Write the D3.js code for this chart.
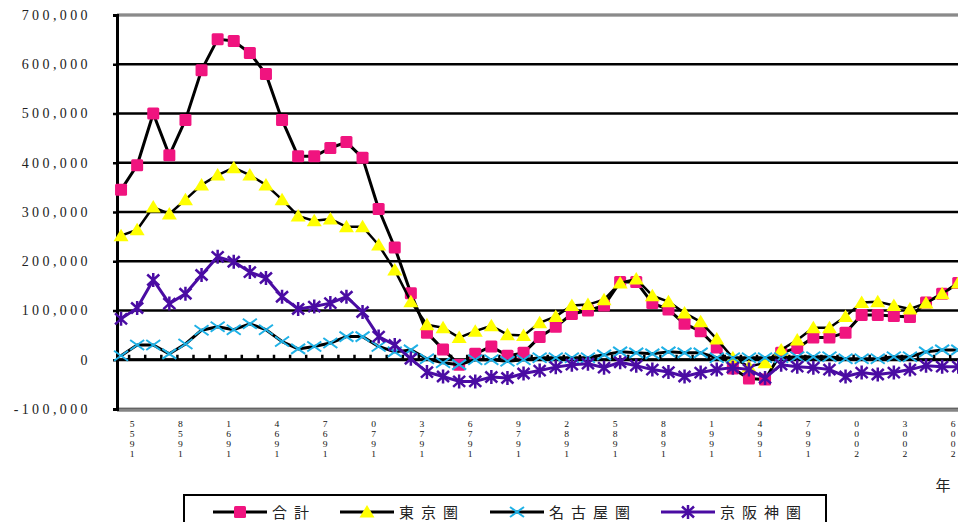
<!DOCTYPE html>
<html>
<head>
<meta charset="utf-8">
<script src="https://cdn.jsdelivr.net/npm/d3@7"></script>
<style>
  body { margin: 0; background: #fff; }
  svg { display: block; }
</style>
</head>
<body>
<div id="chart"></div>
<script>
// years on the category axis (1955 - 2007)
var years = d3.range(1955, 2008);

// labelled years (every 3rd)
var tickYears = [1955, 1958, 1961, 1964, 1967, 1970, 1973, 1976, 1979, 1982,
                 1985, 1988, 1991, 1994, 1997, 2000, 2003, 2006];

var yTicks = [-100000, 0, 100000, 200000, 300000, 400000, 500000, 600000, 700000];

var seriesNames = ["合計", "東京圏", "名古屋圏", "京阪神圏"];

var total = [345000, 395000, 500000, 415000, 487000, 588000, 651000, 647000, 623000, 580000,
             487000, 413000, 413000, 430000, 442000, 410000, 306000, 228000, 135000, 55000,
             21000, -10000, 12000, 27000, 8000, 14000, 46000, 67000, 93000, 100000,
             110000, 158000, 158000, 115000, 102000, 73000, 58000, 25000, -18000, -38000,
             -40000, 14000, 24000, 45000, 45000, 55000, 91000, 91000, 89000, 87000,
             116000, 134000, 156000];

var tokyo = [252000, 264000, 310000, 296000, 325000, 355000, 375000, 390000, 375000, 355000,
             325000, 292000, 282000, 286000, 270000, 270000, 233000, 182000, 118000, 71000,
             65000, 45000, 58000, 69000, 51000, 49000, 75000, 88000, 110000, 112000,
             122000, 156000, 164000, 130000, 118000, 95000, 77000, 42000, 4000, -14000,
             -6000, 20000, 40000, 65000, 65000, 88000, 116000, 118000, 110000, 103000,
             115000, 134000, 156000];

var nagoya = [8000, 30000, 30000, 12000, 32000, 60000, 67000, 61000, 73000, 61000,
              37000, 22000, 27000, 34000, 47000, 47000, 27000, 16000, 20000, 2000,
              -6000, -10000, 0, 0, -3000, 0, 4000, 4000, 4000, 4000,
              10000, 16000, 14000, 12000, 16000, 14000, 14000, 4000, 4000, 4000,
              4000, 4000, 6000, 6000, 6000, 2000, 2000, 2000, 6000, 6000,
              16000, 20000, 20000];

var osaka = [83000, 105000, 162000, 114000, 134000, 172000, 209000, 199000, 178000, 166000,
             128000, 103000, 108000, 115000, 128000, 97000, 47000, 30000, 2000, -25000,
             -34000, -44000, -44000, -35000, -37000, -28000, -22000, -15000, -10000, -8000,
             -16000, -5000, -12000, -20000, -25000, -34000, -26000, -20000, -16000, -20000,
             -37000, -10000, -14000, -16000, -20000, -34000, -26000, -30000, -26000, -20000,
             -12000, -14000, -14000];

// chart size and plot area
var width = 958, height = 522;
var plot = {left: 117, top: 15, bottom: 409};

var svg = d3.select("#chart")
  .append("svg")
  .attr("width", width)
  .attr("height", height);

// scales
var step = 16.1;
var x = d3.scaleBand()
  .domain(years)
  .range([113, 113 + step * years.length])
  .padding(0);
var cx = function(yr) { return x(yr) + x.bandwidth() / 2; };

var y = d3.scaleLinear()
  .domain([-100000, 700000])
  .range([plot.bottom, plot.top]);

var fmt = function(d) { return d < 0 ? "-" + d3.format(",")(-d) : d3.format(",")(d); };

// horizontal gridlines
svg.append("g")
  .selectAll("line")
  .data(yTicks)
  .enter()
  .append("line")
  .attr("x1", plot.left)
  .attr("x2", width + 2)
  .attr("y1", d => y(d))
  .attr("y2", d => y(d))
  .style("stroke", "#000")
  .style("stroke-width", "2.5px");

// plot border top / bottom (grey)
svg.append("line")
  .attr("x1", plot.left).attr("x2", width + 2)
  .attr("y1", y(700000)).attr("y2", y(700000))
  .style("stroke", "#8a8a8a").style("stroke-width", "2.5px");
svg.append("line")
  .attr("x1", plot.left).attr("x2", width + 2)
  .attr("y1", y(-100000) + 1).attr("y2", y(-100000) + 1)
  .style("stroke", "#858585").style("stroke-width", "3.5px");

// y axis
var yAxis = svg.append("g")
  .attr("transform", "translate(" + plot.left + ",0)")
  .call(d3.axisLeft(y).tickValues(yTicks).tickSize(4).tickFormat(fmt));
yAxis.select(".domain").style("stroke", "#000").style("stroke-width", "3px");
yAxis.selectAll(".tick line").style("stroke", "#000").style("stroke-width", "2.5px");
yAxis.selectAll("text")
  .attr("x", -26)
  .style("font-family", "'Liberation Serif', 'DejaVu Serif', serif")
  .style("font-size", "14px")
  .style("letter-spacing", "3.4px")
  .style("fill", "#222");

// zero line with small ticks at the category boundaries
svg.append("line")
  .attr("x1", plot.left).attr("x2", width + 2)
  .attr("y1", y(0)).attr("y2", y(0))
  .style("stroke", "#000").style("stroke-width", "3px");
svg.append("g")
  .selectAll("line")
  .data(years.slice(1))
  .enter()
  .append("line")
  .attr("x1", d => x(d)).attr("x2", d => x(d))
  .attr("y1", y(0) - 5).attr("y2", y(0))
  .style("stroke", "#000").style("stroke-width", "2.5px");

// x tick labels: digits stacked upright, read from bottom to top
var xl = svg.append("g")
  .selectAll("g")
  .data(tickYears)
  .enter()
  .append("g")
  .attr("transform", d => "translate(" + (cx(d) + 11) + ",0)");
xl.each(function(d) {
  var chars = String(d).split("").reverse();
  d3.select(this).selectAll("text")
    .data(chars)
    .enter()
    .append("text")
    .attr("transform", (c, i) => "translate(0," + (427 + i * 10) + ") scale(0.8,0.75)")
    .attr("text-anchor", "middle")
    .style("font-family", "'Liberation Serif', serif")
    .style("font-size", "12px")
    .style("fill", "#111")
    .text(c => c);
});

// 年
svg.append("text")
  .attr("x", 943)
  .attr("y", 491)
  .attr("text-anchor", "middle")
  .style("font-family", "'Noto Sans CJK JP', sans-serif")
  .style("font-size", "15px")
  .style("fill", "#222")
  .text("年");

// marker shapes
var markers = {
  square: function(g) {
    g.append("rect").attr("x", -6).attr("y", -6).attr("width", 12).attr("height", 12)
      .attr("rx", 1.5).style("fill", "#f0147f");
  },
  triangle: function(g) {
    g.append("path").attr("d", "M0,-7L7.5,5.5L-7.5,5.5Z").style("fill", "#ffff00");
  },
  cross: function(g) {
    g.append("path").attr("d", "M-7,-5L7,5M-7,5L7,-5")
      .style("fill", "none").style("stroke", "#1fb1e6").style("stroke-width", "2px");
  },
  star: function(g) {
    g.append("path").attr("d", "M-6,-5.5L6,5.5M-6,5.5L6,-5.5M0,-7L0,7")
      .style("fill", "none").style("stroke", "#4a0ca3").style("stroke-width", "2.5px");
  }
};

var series = [
  {name: seriesNames[0], values: total,  line: "#000",    lw: 3,   marker: "square"},
  {name: seriesNames[1], values: tokyo,  line: "#000",    lw: 2.5, marker: "triangle"},
  {name: seriesNames[2], values: nagoya, line: "#000",    lw: 3,   marker: "cross"},
  {name: seriesNames[3], values: osaka,  line: "#4a0ca3", lw: 3,   marker: "star"}
];

var line = d3.line()
  .x((d, i) => cx(years[i]))
  .y(d => y(d));

series.forEach(function(s) {
  svg.append("path")
    .attr("d", line(s.values))
    .style("fill", "none")
    .style("stroke", s.line)
    .style("stroke-width", s.lw + "px")
    .style("stroke-linejoin", "round");

  svg.append("g")
    .selectAll("g")
    .data(s.values)
    .enter()
    .append("g")
    .attr("transform", (d, i) => "translate(" + cx(years[i]) + "," + y(d) + ")")
    .each(function() { markers[s.marker](d3.select(this)); });
});

// legend
var legend = svg.append("g");
legend.append("rect")
  .attr("x", 184).attr("y", 495)
  .attr("width", 642).attr("height", 40)
  .style("fill", "#fff")
  .style("stroke", "#000")
  .style("stroke-width", "2px");

var legendX = [213, 340, 490, 661];
series.forEach(function(s, i) {
  var g = legend.append("g").attr("transform", "translate(" + legendX[i] + ",512)");
  g.append("line").attr("x1", 0).attr("x2", 54).attr("y1", 0).attr("y2", 0)
    .style("stroke", s.line).style("stroke-width", "3px");
  var m = g.append("g").attr("transform", "translate(27,0)");
  markers[s.marker](m);
  g.append("text")
    .attr("x", 59)
    .attr("y", 6)
    .style("font-family", "'Noto Sans CJK JP', sans-serif")
    .style("font-size", "15px")
    .style("letter-spacing", "7px")
    .style("fill", "#222")
    .text(s.name);
});
</script>
</body>
</html>
